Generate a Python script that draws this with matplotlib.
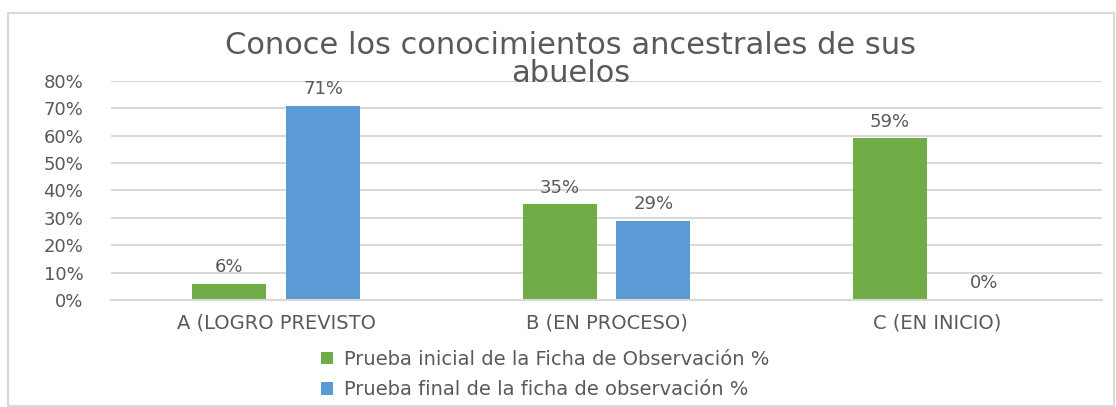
import numpy as np
import matplotlib.pyplot as plt
from matplotlib.patches import Rectangle
from matplotlib.ticker import FuncFormatter

# Chart data
categories = ['A (LOGRO PREVISTO', 'B (EN PROCESO)', 'C (EN INICIO)']
inicial = [6, 35, 59]
final = [71, 29, 0]
series_names = ['Prueba inicial de la Ficha de Observación %',
                'Prueba final de la ficha de observación %']
title_lines = ['Conoce los conocimientos ancestrales de sus', 'abuelos']

GREEN = '#70AD47'
BLUE = '#5B9BD5'
TEXT = '#595959'
GRID = '#D9D9D9'

plt.rcParams['font.family'] = ['DejaVu Sans']

fig = plt.figure(figsize=(11.16, 4.07), dpi=100)
ax = fig.add_axes([0.0995, 0.2629, 0.888, 0.5381])

# chart border
fig.patches.append(Rectangle((8 / 1116, 1 / 407), 1106 / 1116, 393 / 407,
                             transform=fig.transFigure, fill=False,
                             edgecolor=GRID, linewidth=1.5))

x = np.arange(len(categories))
w = 0.224
gap = 0.06
b1 = ax.bar(x - (w + gap) / 2, inicial, w, color=GREEN, label=series_names[0])
b2 = ax.bar(x + (w + gap) / 2, final, w, color=BLUE, label=series_names[1])

for bars, vals in ((b1, inicial), (b2, final)):
    for rect, v in zip(bars, vals):
        ax.annotate(f'{v}%', (rect.get_x() + rect.get_width() / 2, v),
                    xytext=(0, 5.5), textcoords='offset points',
                    ha='center', va='bottom', fontsize=13, color=TEXT)

ax.set_xlim(-0.5, 2.5)
ax.set_ylim(0, 80)
ax.set_yticks(range(0, 81, 10))
ax.yaxis.set_major_formatter(FuncFormatter(lambda v, p: f'{int(v)}%'))
ax.yaxis.grid(True, color=GRID, linewidth=1.5)
ax.set_axisbelow(True)
ax.set_xticks(x)
ax.set_xticklabels(categories)
ax.tick_params(axis='both', length=0, labelsize=13, labelcolor=TEXT)
ax.tick_params(axis='x', labelsize=14, pad=10)
ax.tick_params(axis='y', pad=20)
for s in ('top', 'right', 'left'):
    ax.spines[s].set_visible(False)
ax.spines['bottom'].set_color(GRID)
ax.spines['bottom'].set_linewidth(1.5)

# title, two lines
fig.text(0.511, 1 - 45 / 407, title_lines[0], ha='center', va='center',
         fontsize=22, color=TEXT)
fig.text(0.511, 1 - 73 / 407, title_lines[1], ha='center', va='center',
         fontsize=22, color=TEXT)

fig.legend(handles=[b1, b2], loc='upper left', bbox_to_anchor=(0.281, 0.160),
           frameon=False, ncol=1, fontsize=14, labelcolor=TEXT,
           handlelength=0.6, handleheight=0.6, handletextpad=0.55,
           labelspacing=0.6, borderaxespad=0)

fig.savefig('out.png', dpi=100)
